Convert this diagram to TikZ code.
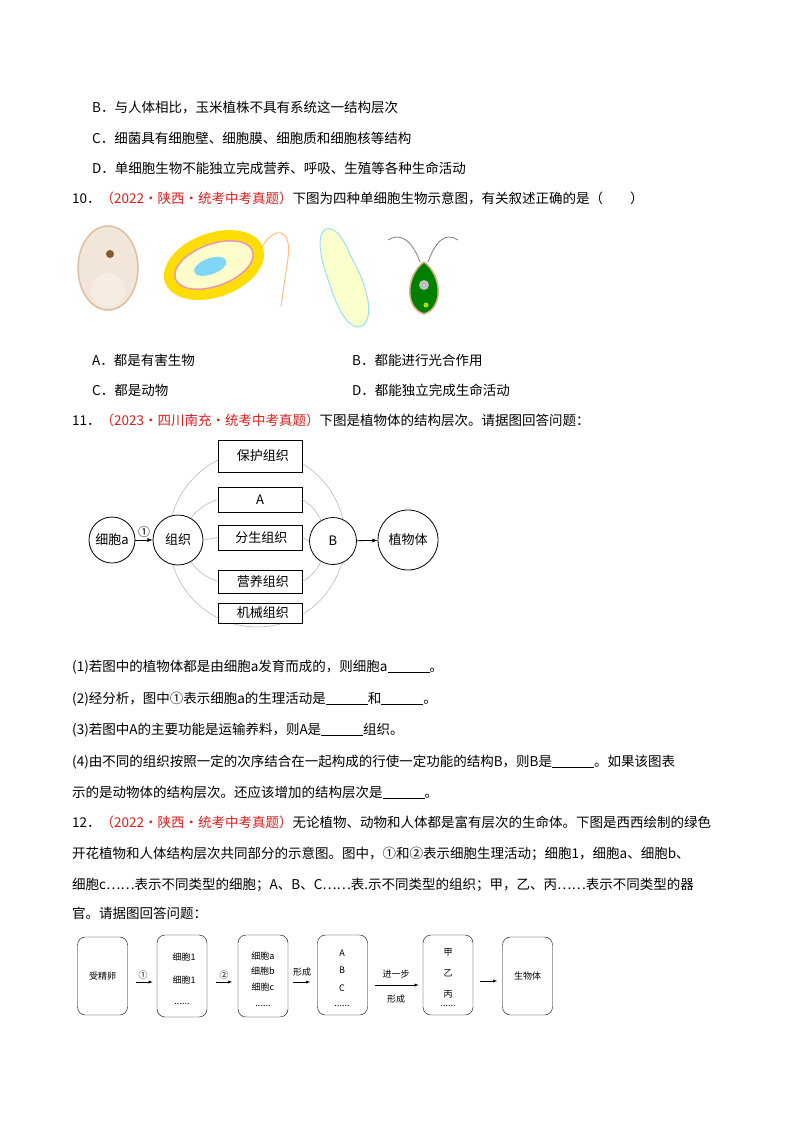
\documentclass[tikz,border=0pt]{standalone}
\usepackage{fontspec}
\setmainfont{Noto Sans CJK SC}
\newcommand{\blk}{\rule[-2pt]{42pt}{0.8pt}}
\definecolor{redt}{RGB}{220,30,30}
\begin{document}
\begin{tikzpicture}[x=1pt,y=-1pt,
  txt/.style={anchor=base west,inner sep=0pt,font=\fontsize{13.5}{16}\selectfont},
  circ/.style={draw,circle,thick,fill=white,inner sep=0pt,font=\fontsize{13}{15}\selectfont},
  tbox/.style={draw,thick,fill=white,minimum width=84pt,inner sep=0pt,font=\fontsize{13}{15}\selectfont},
  fbox/.style={draw,rounded corners=8pt,minimum width=50pt,minimum height=80pt,inner sep=0pt},
  small/.style={inner sep=0pt,font=\fontsize{9}{10}\selectfont},
  gl/.style={draw=gray!60,line width=0.5pt},
  arr/.style={-latex,thick}]
\useasboundingbox (0,0) rectangle (800,1132);
\fill[white] (0,0) rectangle (800,1132);
% top text
\node[txt] (t1) at (92,112) {B．与人体相比，玉米植株不具有系统这一结构层次};
\node[txt] (t2) at (92,143) {C．细菌具有细胞壁、细胞膜、细胞质和细胞核等结构};
\node[txt] (t3) at (92,173) {D．单细胞生物不能独立完成营养、呼吸、生殖等各种生命活动};
\node[txt] (t4) at (72,203) {10．\textcolor{redt}{（2022·陕西·统考中考真题）}下图为四种单细胞生物示意图，有关叙述正确的是（\hspace{2em}）};
% cells
\draw[fill=brown!20,draw=brown!50,line width=1.5pt] (108,268) ellipse (30 and 42);
\fill[white!85!brown] (108,290) circle (17);
\fill[brown!70!black] (110,254) circle (4);
\begin{scope}[rotate around={20:(214,265)}]
\fill[yellow!80!orange] (214,265) ellipse (52 and 32);
\draw[fill=yellow!20,draw=purple!40,line width=1.5pt] (214,265) ellipse (41 and 21);
\fill[cyan!50] (210,265) ellipse (17 and 8);
\end{scope}
\draw[orange!50,line width=1pt] (262,247) .. controls (275,225) and (292,228) .. (288,258) .. controls (284,285) and (282,300) .. (281,306);
\draw[fill=green!10!yellow!20,draw=cyan!40,line width=1pt] (322,233) .. controls (328,222) and (342,232) .. (350,255) .. controls (368,285) and (375,318) .. (362,326) .. controls (348,332) and (336,305) .. (330,285) .. controls (320,258) and (318,242) .. (322,233);
\draw[gray,line width=0.8pt] (388,240) .. controls (400,232) and (412,240) .. (420,262);
\draw[gray,line width=0.8pt] (458,240) .. controls (446,232) and (436,240) .. (428,262);
\draw[fill=green!50!black,draw=brown!60,line width=1.5pt] (424,262) .. controls (442,275) and (444,308) .. (424,314) .. controls (404,308) and (406,275) .. (424,262);
\fill[gray!50] (424,285) circle (5);
\fill[yellow!70!green] (426,305) circle (2.5);
% options
\node[txt] (o1) at (92,365) {A．都是有害生物};
\node[txt] (o2) at (352,365) {B．都能进行光合作用};
\node[txt] (o3) at (92,395) {C．都是动物};
\node[txt] (o4) at (352,395) {D．都能独立完成生命活动};
\node[txt] (t5) at (72,425) {11．\textcolor{redt}{（2023·四川南充·统考中考真题）}下图是植物体的结构层次。请据图回答问题：};
% plant diagram
\draw[gl] (257,539) circle (88);
\node[circ,minimum size=46pt] (ca) at (112,540) {细胞a};
\node[circ,minimum size=50pt] (zz) at (178,540) {组织};
\node[circ,minimum size=47pt] (cb) at (333,541) {B};
\node[circ,minimum size=60pt] (zw) at (408,540) {植物体};
\node[tbox,minimum height=32pt] (b1) at (260,456) {\ \ 保护组织};
\node[tbox,minimum height=25pt] (b2) at (260,499.5) {A};
\node[tbox,minimum height=25pt] (b3) at (260,537.5) {\ 分生组织};
\node[tbox,minimum height=23pt] (b4) at (260,581.5) {\ \ 营养组织};
\node[tbox,minimum height=20pt] (b5) at (260,613) {\ \ 机械组织};
\draw[gl] (zz.60) to[bend left=15] (b2.west);
\draw[gl] (cb.120) to[bend right=15] (b2.east);
\draw[gl] (zz.-60) to[bend right=15] (b4.west);
\draw[gl] (cb.-120) to[bend left=15] (b4.east);
\draw[gl] (zz.east) -- (b3.west);
\draw[gl] (b3.east) -- (cb.west);
\draw[->,>=latex,thick] (ca) -- node[above,inner sep=2pt,font=\fontsize{12}{12}\selectfont]{①} (zz);
\draw[->,>=latex,thick] (cb) -- (zw);
% questions
\node[txt] (q1) at (72,671) {(1)若图中的植物体都是由细胞a发育而成的，则细胞a\blk。};
\node[txt] (q2) at (72,703) {(2)经分析，图中①表示细胞a的生理活动是\blk 和\blk。};
\node[txt] (q3) at (72,734) {(3)若图中A的主要功能是运输养料，则A是\blk 组织。};
\node[txt] (q4) at (72,766) {(4)由不同的组织按照一定的次序结合在一起构成的行使一定功能的结构B，则B是\blk。如果该图表};
\node[txt] (q5) at (72,797) {示的是动物体的结构层次。还应该增加的结构层次是\blk。};
\node[txt] (t6) at (72,827) {12．\textcolor{redt}{（2022·陕西·统考中考真题）}无论植物、动物和人体都是富有层次的生命体。下图是西西绘制的绿色};
\node[txt] (t7) at (72,858) {开花植物和人体结构层次共同部分的示意图。图中，①和②表示细胞生理活动；细胞1，细胞a、细胞b、};
\node[txt] (t8) at (72,889) {细胞c……表示不同类型的细胞；A、B、C……表.示不同类型的组织；甲，乙、丙……表示不同类型的器};
\node[txt] (t9) at (72,918) {官。请据图回答问题：};
% flow
\node[fbox,minimum height=78pt] (f1) at (102.5,976) {};
\node[small] at (f1) {受精卵};
\node[fbox,minimum height=82pt] (f2) at (182,976) {};
\node[fbox,minimum height=82pt] (f3) at (263,976) {};
\node[fbox,minimum height=80pt] (f4) at (342.5,975) {};
\node[fbox,minimum height=80pt] (f5) at (448,975) {};
\node[fbox,minimum height=78pt] (f6) at (527.5,976) {};
\node[small] at (f6) {生物体};
\node[small] at (184,957) {细胞1};
\node[small] at (184,980) {细胞1};
\node[small] at (182,1004) {......};
\node[small] at (263,956) {细胞a};
\node[small] at (263,971) {细胞b};
\node[small] at (263,987) {细胞c};
\node[small] at (263,1006) {......};
\node[small] at (342,953) {A};
\node[small] at (342,970) {B};
\node[small] at (342,988) {C};
\node[small] at (342,1006) {......};
\node[small] at (448,952) {甲};
\node[small] at (448,973) {乙};
\node[small] at (448,994) {丙};
\node[small] at (448,1006) {......};
\draw[arr,thin] (f1.east)++(8,6) -- ++(17,0);
\node[small] at (143,975) {①};
\draw[arr,thin] (f2.east)++(9,6) -- ++(16,0);
\node[small] at (224,975) {②};
\draw[arr,thin] (f3.east)++(5,6) -- ++(17,0);
\node[small] at (302,972) {形成};
\draw[arr,thin] (f4.east)++(7,10) -- ++(44,0);
\node[small] at (396,974) {进一步};
\node[small] at (396,999) {形成};
\draw[arr,thin] (f5.east)++(7,6) -- ++(17,0);
\end{tikzpicture}
\end{document}
